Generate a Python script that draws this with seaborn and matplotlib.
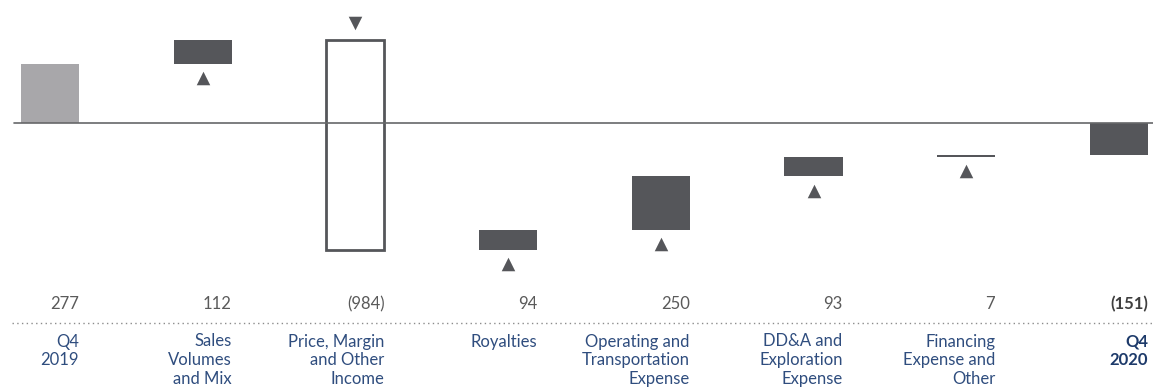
import numpy as np
import pandas as pd
import matplotlib
matplotlib.use("Agg")
import matplotlib.pyplot as plt
import matplotlib.transforms as mtransforms
import seaborn as sns

# ---- data ----
categories = ["Q4\n2019", "Sales\nVolumes\nand Mix", "Price, Margin\nand Other\nIncome",
              "Royalties", "Operating and\nTransportation\nExpense", "DD&A and\nExploration\nExpense",
              "Financing\nExpense and\nOther", "Q4\n2020"]
values = [277, 112, -984, 94, 250, 93, 7, -151]
value_labels = ["277", "112", "(984)", "94", "250", "93", "7", "(151)"]
kinds = ["start", "delta", "delta", "delta", "delta", "delta", "delta", "end"]

# ---- waterfall geometry from data ----
bottoms, heights = [], []
running = 0
for v, k in zip(values, kinds):
    if k in ("start", "end"):
        bottoms.append(0)
        heights.append(v)
        running = v
    else:
        bottoms.append(running)
        heights.append(v)
        running += v

sns.set_theme(style="white")
plt.rcParams["font.family"] = ["Lato", "Open Sans", "DejaVu Sans"]

DARK = "#55565a"
LIGHT = "#a8a7aa"
facecolors, edgecolors, lws = [], [], []
for v, k in zip(values, kinds):
    if k == "start":
        facecolors.append(LIGHT); edgecolors.append(LIGHT); lws.append(0)
    elif k == "delta" and v < 0:
        facecolors.append("none"); edgecolors.append(DARK); lws.append(2.0)
    else:
        facecolors.append(DARK); edgecolors.append(DARK); lws.append(0)

df = pd.DataFrame({"cat": [f"c{i}" for i in range(len(values))], "height": heights})

fig = plt.figure(figsize=(11.53, 3.9), dpi=100)
ax = fig.add_axes([0, 0, 1, 1])

sns.barplot(data=df, x="cat", y="height", bottom=bottoms, width=0.38, color=DARK,
            facecolor=facecolors, edgecolor=edgecolors, linewidth=lws,
            errorbar=None, ax=ax, zorder=2)

pos = np.arange(len(values))

# triangles
up_x, up_y, dn_x, dn_y = [], [], [], []
for i, (v, k, b) in enumerate(zip(values, kinds, bottoms)):
    if k != "delta":
        continue
    if v > 0:
        up_x.append(pos[i]); up_y.append(b - 68)
    else:
        dn_x.append(pos[i]); dn_y.append(b + 80)
sns.scatterplot(x=up_x, y=up_y, marker="^", s=95, color=DARK, linewidth=0, ax=ax, zorder=3)
sns.scatterplot(x=dn_x, y=dn_y, marker="v", s=95, color=DARK, linewidth=0, ax=ax, zorder=3)

# axes limits mapping
ax.set_xlim(-50 / 152.7, (1153 - 50) / 152.7)
ax.set_ylim(-267 / 0.213, 123 / 0.213)
ax.axis("off")

# baseline
ax.axhline(0, xmin=14 / 1153, xmax=1, color="#666769", lw=1.2, zorder=4)

trans = mtransforms.blended_transform_factory(ax.transData, ax.transAxes)

# dotted separator
ax.plot([-50 / 152.7 + 12 / 152.7, (1153 - 50) / 152.7], [1 - 323 / 390] * 2,
        transform=trans, color="#8c8c8c", lw=1.0, linestyle=(0, (1, 2.4)), clip_on=False)

half = 0.19
for i, (lab, vl, k) in enumerate(zip(categories, value_labels, kinds)):
    bold = (k == "end")
    ax.text(pos[i] + half, 1 - 309 / 390, vl, transform=trans, ha="right", va="baseline",
            fontsize=12, color="#3f3f3f" if bold else "#5a5a5a",
            fontweight="bold" if bold else "normal")
    ax.text(pos[i] + half, 1 - 333.5 / 390, lab, transform=trans, ha="right", va="top",
            multialignment="right", fontsize=12, linespacing=1.22,
            color="#1d3a6a" if bold else "#2f4d7e",
            fontweight="bold" if bold else "normal")

fig.savefig("out.png", dpi=100)
